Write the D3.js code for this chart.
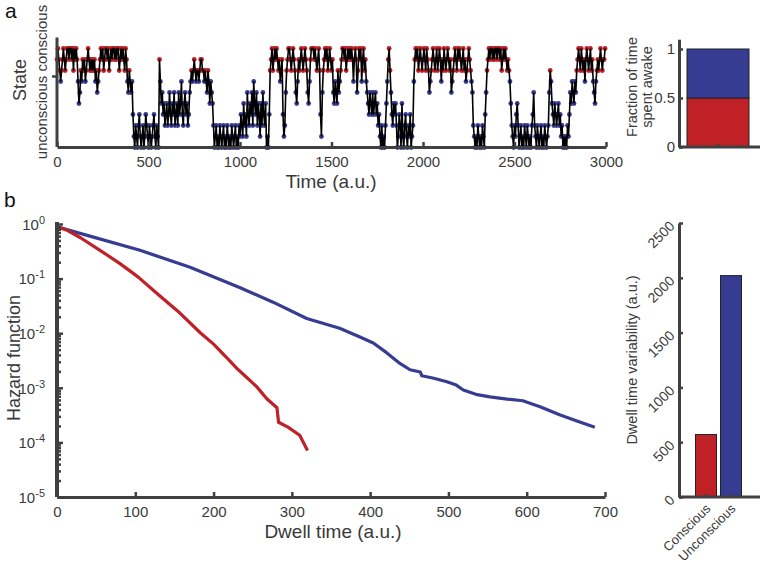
<!DOCTYPE html>
<html><head><meta charset="utf-8">
<script src="https://cdn.jsdelivr.net/npm/d3@7"></script>
<style>
body{margin:0;background:#fff;}
svg{display:block;font-family:"Liberation Sans",Arial,Helvetica,sans-serif;}
</style></head>
<body><svg id="c" width="761" height="566"></svg>
<script>
// ---------- DATA ----------
// Panel a: state time series, sampled every 5 a.u. (levels 0..9; >6.5 = conscious)
const stateStep = 5;
const stateValues = [
 8,9,8,7,6,7,8,9,8,7,8,9, 9,8,9,9,8,9,7,9,8,9,8, 6,4,5,7,6, 8,7,8,6,7,8,9,8,7,8,7,8,
 7,8,6,7,5,6,7,8, 9,8,9,7,8,9,9,8,9,7,8,9,8,9,9,8, 9,8,9,9,7,8,9,8,9,8,7,9,8, 6,5,7,
 6,5,6,3, 1,0,2,1,0,2,3,1,0,1,2,0,1,3,2,1,0,2,1,0,1,2,3,1,0,2,1,0, 8, 6,4,5,3,4,2,3,
 4,2,3,5,3,2,4,3,5,2,3,4,2,5,3,4,6,3,2,4,5,3,4,2,3,5, 6,7,6,7,8,7,6,7,7,6,7,8,8,7,
 7,6,7,6,5,7,6,4,6,5,4,2, 0,1,2,0,1,0,2,1,0,1,2,0,1,0,2,1,0,1,0,2,1,0,1,2,0,1,0,2,
 1,3,2,1,4,2,3,1,5,3,2,4,3,5,2,6,4,3,5,2,4,3,1,4,2,5,3,2,4, 0,1,0,3, 7,8,9,7,8,9,8,
 9,8,7,8,6,7,8, 3,1,2,5,7, 8,9,9,8,7,8,9,8,7, 5,4,6, 8,7,8,9,8,7,8,9,8,7, 5,4,6, 8,9,9,
 9,8,9,8,7,8,9,7, 3,1,5, 7,8,9,8,9,7,8,9,8,7,8, 5,4,6,5,4,7,5,6, 7,8,9,9,8,9,7,8,9,8,
 9,8,9,8,6,8,9,8,5,7,9,8,9,6,8,9,7,8,6, 5,4,3,5,4,3,5,3,4,5,3,4,2,3, 1,0,2,0,1,0,2,
 4,6,8,9,7,5, 3,2,4,3,4, 2,0,1,3,2,0,4,1,0,2,3,1,0,2,1,3,0,1,2, 6,8,9,8,9,7,8,9,8,7,
 8,9,8,7,9,8,7, 5,6,7, 8,9,8,7,8,9,7,8,9,8,6,8,7,9,8,7,8,9,8,7,8, 5,6,7, 8,9,8,7,9,8,
 9,8,7,8,9,7,8,6,7,8,9,8,7,6,5, 2,1,0,1,0,2,1,0,1,0,2,1,0,3,5, 7,8,9,8,9,9,8,9,8,9,
 9,8,9,9,8,9,7,8,9,8,9,8,7,8,7, 6,4,2,1, 0,2,1,3,4,2,0,1,2,0,1,0,2,1,0,2,1,0,1,0,2,
 3,5,2, 1,0,2,1,0,1,2,0,1,0,2,1,0,1,2, 5,7,6,4, 3,2,4,3,2,3,4,2,3,1,2, 0,1,0,1,0,2,1,
 3,5,4,6,5,4,6,5,7, 8,9,8,7,9,8,7,8,6,8,9,8,7,8,9,7,8, 6,5,4,6, 7,8,7,8,9,8,7,8,8,9
];
const consciousThreshold = 6.5;
const timeTicks = [0,500,1000,1500,2000,2500,3000];

// Panel a right: fraction of time spent awake
const awakeFraction = 0.5;
const fracTicks = [0, 0.5, 1];

// Panel b: hazard functions
const consciousTime   = [0,12,30,55,80,97,106,130,157,183,200,217,230,240,255,268,281,283,295,310,320];
const consciousHazard = [0.89,0.78,0.56,0.33,0.19,0.126,0.1,0.05,0.0234,0.0102,0.0063,0.00355,0.00224,0.00166,0.00105,0.00063,0.00043,0.000234,0.00019,0.000135,0.000071];
const unconsciousTime   = [0,42,106,170,234,276,319,361,387,404,421,438,451,464,466,480,498,510,519,535,553,575,595,617,642,665,687];
const unconsciousHazard = [0.89,0.60,0.33,0.162,0.068,0.037,0.0186,0.0123,0.0085,0.0066,0.0044,0.0028,0.00214,0.00195,0.00166,0.00151,0.00129,0.00112,0.00091,0.00076,0.00068,0.00062,0.00058,0.00045,0.00032,0.000245,0.00019];
const dwellTicks = [0,100,200,300,400,500,600,700];
const hazardDecades = [0,-1,-2,-3,-4,-5];

// Panel b right: dwell time variability
const categories = ["Conscious","Unconscious"];
const variability = [570, 2020];
const varTicks = [0,500,1000,1500,2000,2500];

// ---------- STYLE ----------
const RED = "#BF2127", BLUE = "#363C92", AX = "#404040", TXT = "#3a3a3a";
const svg = d3.select("#c");

function styleAxis(g, w){
  g.select(".domain").attr("stroke", AX).attr("stroke-width", w||3);
  g.selectAll(".tick line").attr("stroke", AX).attr("stroke-width", 2.5);
  g.selectAll(".tick text").attr("fill", TXT).attr("font-size", 15);
}

// ---------- PANEL a ----------
const xA = d3.scaleLinear().domain([0,3000]).range([57,606]);
const yA = d3.scaleLinear().domain([0,10]).range([147.5,37.5]);
const stateData = stateValues.map((v,i)=>({t:i*stateStep, v}));

svg.append("g").selectAll("circle").data(stateData).join("circle")
  .attr("cx",d=>xA(d.t)).attr("cy",d=>yA(d.v)).attr("r",2.4)
  .attr("fill",d=>d.v>consciousThreshold?RED:BLUE);
svg.append("path").datum(stateData)
  .attr("fill","none").attr("stroke","#000").attr("stroke-width",1.6)
  .attr("d", d3.line().x(d=>xA(d.t)).y(d=>yA(d.v)));

const gxA = svg.append("g").attr("transform","translate(0,147)")
  .call(d3.axisBottom(xA).tickValues(timeTicks).tickSize(-5).tickSizeOuter(0).tickPadding(9).tickFormat(d3.format("d")));
styleAxis(gxA);
const gyA = svg.append("g").attr("transform","translate(57,0)")
  .call(d3.axisLeft(yA).tickValues([consciousThreshold]).tickSize(5).tickSizeOuter(0).tickFormat(""));
styleAxis(gyA);
gyA.select(".domain").attr("d", `M0,${yA(10)}V147`);

svg.append("text").attr("x",5).attr("y",18).attr("font-size",21).attr("fill","#111").text("a");
svg.append("text").attr("transform","translate(26,80) rotate(-90)").attr("text-anchor","middle")
  .attr("font-size",18).attr("fill",TXT).text("State");
svg.append("text").attr("transform","translate(47,82) rotate(-90)").attr("text-anchor","middle")
  .attr("font-size",15).attr("fill",TXT).text("unconscious  conscious");
svg.append("text").attr("x",331).attr("y",188).attr("text-anchor","middle")
  .attr("font-size",19).attr("fill",TXT).text("Time (a.u.)");

// ---------- PANEL a right ----------
const xF = d3.scaleBand().domain(["awake"]).range([687,749]);
const yF = d3.scaleLinear().domain([0,1.1]).range([147,39.2]);
const stack = [{y0:0,y1:awakeFraction,c:RED},{y0:awakeFraction,y1:1,c:BLUE}];
svg.append("g").selectAll("rect").data(stack).join("rect")
  .attr("x",xF("awake")).attr("width",xF.bandwidth())
  .attr("y",d=>yF(d.y1)).attr("height",d=>yF(d.y0)-yF(d.y1))
  .attr("fill",d=>d.c).attr("stroke","#222").attr("stroke-width",1);
const gxF = svg.append("g").attr("transform","translate(0,147)")
  .call(d3.axisBottom(xF).tickSize(-3).tickSizeOuter(0).tickFormat(""));
styleAxis(gxF);
gxF.select(".domain").attr("d","M679,0H760");
const gyF = svg.append("g").attr("transform","translate(679,0)")
  .call(d3.axisLeft(yF).tickValues(fracTicks).tickSize(-4).tickSizeOuter(0).tickPadding(4)
  .tickFormat(d=>d===0.5?"0.5":d3.format("d")(d)));
styleAxis(gyF);
svg.append("text").attr("transform","translate(637,87) rotate(-90)").attr("text-anchor","middle")
  .attr("font-size",14.5).attr("fill",TXT).text("Fraction of time");
svg.append("text").attr("transform","translate(652,87) rotate(-90)").attr("text-anchor","middle")
  .attr("font-size",14.5).attr("fill",TXT).text("spent  awake");

// ---------- PANEL b ----------
const xB = d3.scaleLinear().domain([0,700]).range([57,605]);
const yB = d3.scaleLog().domain([1e-5,1]).range([497,224]);
const lineB = d3.line().x(d=>xB(d[0])).y(d=>yB(d[1]));
svg.append("path").datum(unconsciousTime.map((t,i)=>[t,unconsciousHazard[i]]))
  .attr("fill","none").attr("stroke",BLUE).attr("stroke-width",3.2).attr("stroke-linejoin","round").attr("d",lineB);
svg.append("path").datum(consciousTime.map((t,i)=>[t,consciousHazard[i]]))
  .attr("fill","none").attr("stroke",RED).attr("stroke-width",3.2).attr("stroke-linejoin","round").attr("d",lineB);

const gxB = svg.append("g").attr("transform","translate(0,497)")
  .call(d3.axisBottom(xB).tickValues(dwellTicks).tickSize(-5).tickSizeOuter(0).tickPadding(9));
styleAxis(gxB);
// minor log ticks
const minor = [];
hazardDecades.slice(0,-1).forEach(e=>{ for(let k=2;k<10;k++) minor.push(k*Math.pow(10,e-1)); });
const gyBm = svg.append("g").attr("transform","translate(57,0)")
  .call(d3.axisLeft(yB).tickValues(minor).tickSize(-4).tickFormat(""));
gyBm.select(".domain").remove();
gyBm.selectAll(".tick line").attr("stroke",AX).attr("stroke-width",2.5);
const gyB = svg.append("g").attr("transform","translate(57,0)")
  .call(d3.axisLeft(yB).tickValues(hazardDecades.map(e=>Math.pow(10,e))).tickSize(-6).tickSizeOuter(0).tickFormat(""));
styleAxis(gyB, 4);
gyB.select(".domain").attr("d","M0,222V497");
gyB.selectAll(".tick").append("text").attr("x",-12).attr("dy","0.35em")
  .attr("text-anchor","end").attr("fill",TXT).attr("font-size",15)
  .each(function(d){
    const e = Math.round(Math.log10(d));
    const t = d3.select(this);
    t.append("tspan").text("10");
    t.append("tspan").attr("dy","-0.55em").attr("font-size",11).text(String(e));
  });
svg.append("text").attr("x",4).attr("y",207).attr("font-size",21).attr("fill","#111").text("b");
svg.append("text").attr("transform","translate(20,358) rotate(-90)").attr("text-anchor","middle")
  .attr("font-size",18).attr("fill",TXT).text("Hazard  function");
svg.append("text").attr("x",333).attr("y",538).attr("text-anchor","middle")
  .attr("font-size",19).attr("fill",TXT).text("Dwell time (a.u.)");

// ---------- PANEL b right ----------
const xV = d3.scaleBand().domain(categories).range([693.5,743.5]);
const yV = d3.scaleLinear().domain([0,2500]).range([497,223]);
const bw = xV.bandwidth()*0.84;
svg.append("g").selectAll("rect").data(categories).join("rect")
  .attr("x",d=>xV(d)+(xV.bandwidth()-bw)/2).attr("width",bw)
  .attr("y",(d,i)=>yV(variability[i])).attr("height",(d,i)=>497-yV(variability[i]))
  .attr("fill",(d,i)=>i===0?RED:BLUE).attr("stroke","#222").attr("stroke-width",1);
const gxV = svg.append("g").attr("transform","translate(0,497)")
  .call(d3.axisBottom(xV).tickSize(-3).tickSizeOuter(0).tickFormat(""));
styleAxis(gxV);
gxV.select(".domain").attr("d","M679,0H760");
gxV.selectAll(".tick").append("text")
  .attr("transform","translate(-1,6) rotate(-45)").attr("text-anchor","end").attr("dy","0.7em")
  .attr("fill",TXT).attr("font-size",13).text(d=>d);
const gyV = svg.append("g").attr("transform","translate(679,0)")
  .call(d3.axisLeft(yV).tickValues(varTicks).tickSize(-4).tickSizeOuter(0).tickFormat(""));
styleAxis(gyV);
gyV.selectAll(".tick").append("text")
  .attr("transform","translate(-7,0) rotate(-45)").attr("text-anchor","end").attr("dy","0.35em")
  .attr("fill",TXT).attr("font-size",14).text(d=>d);
svg.append("text").attr("transform","translate(637,360) rotate(-90)").attr("text-anchor","middle")
  .attr("font-size",14.5).attr("fill",TXT).text("Dwell time variability (a.u.)");
</script></body></html>
